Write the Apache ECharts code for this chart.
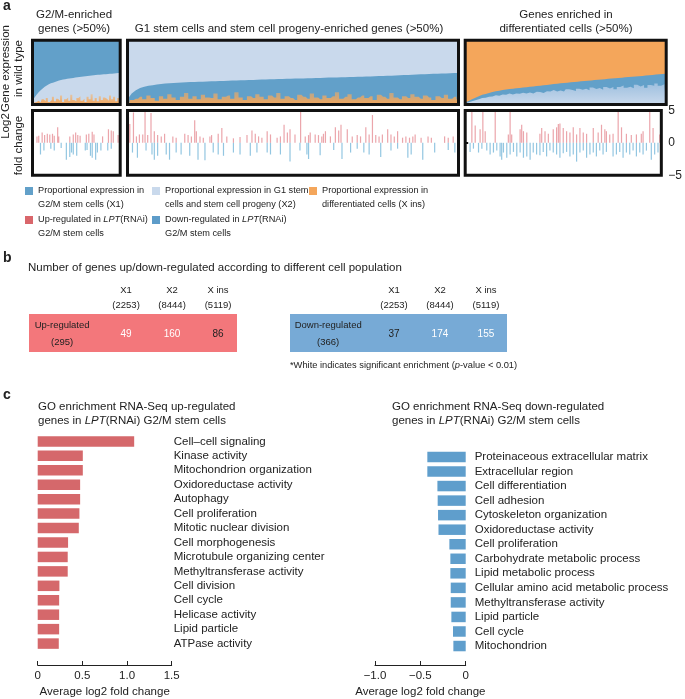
<!DOCTYPE html>
<html><head><meta charset="utf-8">
<script src="https://cdn.jsdelivr.net/npm/echarts@6/dist/echarts.min.js"></script>
<style>html,body{margin:0;padding:0;background:#fff}#c{width:685px;height:699px}</style>
</head><body><div id="c"></div>
<script>
const FONT = '"Liberation Sans", Arial, Helvetica, sans-serif';

// ---------- Panel a: proportional expression (sorted genes, binned), % of each gene ----------
const p1_X1 = [93,89,85,81,78,75,72.5,70.5,68.5,67,66,65,63.8,62.8,62,61.3,60.7,60,59.6,59.1,58.6,58.2,57.8,57.3,56.9,56.4,56,55.6,55.3,55,54.6,54.2,53.9,53.6,53.3,53,52.8,52.5,52.2,52,51.7,51.5,51.2,51];
const p1_Xins = [2,3,4,6,3,8,5,10,4,7,12,5,9,6,14,4,8,11,6,15,7,5,10,13,6,9,4,12,8,16,6,10,5,13,7,11,9,6,14,8,12,5,10,7];
const p2_X2 = [92,83,78,74.5,72.5,71,70,69,68,67.5,67,66.5,66.2,65.8,65.5,65.2,65,64.8,64.5,64.3,64,63.8,63.5,63.3,63,62.8,62.6,62.4,62.2,62,61.8,61.5,61.3,61.1,60.9,60.7,60.5,60.3,60.1,59.9,59.7,59.5,59.4,59.2,59,58.8,58.6,58.4,58.2,58.1,57.9,57.7,57.5,57.3,57.1,56.9,56.7,56.5,56.3,56,55.8,55.6,55.3,55.1,54.8,54.5,54.3,54,53.7,53.4,53.1,52.8,52.5,52.2,52,51.8,51.6,51.4,51.2,51];
const p2_Xins = [3,7,9,12,8,14,10,6,13,9,16,11,7,12,18,9,13,8,15,11,10,17,8,12,14,9,19,11,7,13,10,16,12,8,14,11,18,9,13,10,7,15,12,9,17,11,8,14,10,13,19,9,12,16,8,11,14,10,13,7,15,12,9,18,11,8,13,10,16,12,9,14,11,7,13,10,15,9,12,8];
const p3_Xins = [97,94.5,92,89.5,87,85,83.5,82,80.5,79.5,78.5,77.5,76.8,76,75.4,74.8,74.2,73.6,73,72.5,71.9,71.3,70.7,70.1,69.5,68.9,68.3,67.7,67.1,66.6,66.1,65.5,65,64.5,64,63.5,63,62.5,62,61.5,61,60.6,60.1,59.6,59.2,58.7,58.3,57.8,57.4,56.9,56.4,56,55.5,55,54.5,54,53.5,53,52.5,52];
const p3_X1 = [1,2,3,4,5,5,6,6,7,6,8,7,8,7,9,8,9,8,10,9,11,9,10,12,10,11,9,12,11,13,10,12,14,11,13,12,15,11,14,13,16,12,15,13,17,14,12,16,15,18,13,16,14,19,15,17,14,18,16,20];

// ---------- Panel a: log2 fold change [position % of gene rank, log2FC] ----------
const up1 = [[5.1,1.0],[7.1,1.1],[11.0,1.6],[13.8,1.2],[16.9,1.4],[19.7,1.3],[22.8,1.4],[24.8,1.1],[28.7,2.4],[29.9,1.0],[42.5,1.0],[46.5,1.3],[49.2,1.6],[51.6,1.2],[54.3,1.1],[61.4,1.3],[64.2,1.4],[68.1,1.7],[70.1,1.3],[79.9,1.0],[86.6,2.1],[89.8,1.9],[92.1,1.8],[97.6,1.2]];
const down1 = [[9.1,-1.8],[13.0,-1.2],[20.9,-0.9],[24.8,-1.2],[32.7,-0.8],[38.6,-2.6],[42.5,-2.2],[44.5,-1.5],[46.5,-1.8],[50.4,-2.0],[60.2,-1.2],[62.2,-1.1],[66.1,-2.0],[68.1,-2.3],[72.0,-2.6],[74.0,-1.5],[78.0,-1.2],[85.8,-1.2],[89.8,-0.9]];
const up2 = [[0.3,4.0],[0.7,2.9],[1.8,4.7],[2.7,1.0],[3.6,1.3],[4.6,1.3],[5.3,5.3],[6.1,1.2],[7.1,4.6],[8.1,1.8],[9.1,1.2],[10.2,1.0],[11.2,1.4],[13.7,1.0],[14.7,0.8],[17.3,1.4],[18.3,1.2],[19.3,1.0],[20.3,3.5],[20.8,1.8],[21.9,1.0],[22.9,0.8],[24.9,1.0],[25.4,1.2],[27.4,1.4],[28.5,2.3],[30.0,1.0],[32.0,0.7],[34.0,0.9],[36.1,1.2],[37.6,1.9],[38.6,1.4],[39.6,1.0],[40.6,0.8],[42.2,1.8],[43.2,1.3],[45.2,0.8],[46.2,1.0],[47.3,2.8],[48.3,1.6],[49.1,2.1],[50.6,1.3],[52.3,5.3],[53.7,1.0],[54.7,1.2],[55.2,1.6],[56.7,1.3],[57.7,1.2],[58.7,1.0],[59.2,1.4],[59.8,1.8],[61.3,1.0],[62.8,2.4],[63.8,1.9],[64.5,2.8],[66.4,2.1],[67.9,1.0],[69.4,1.2],[70.4,1.0],[72.0,2.4],[73.0,1.3],[74.0,4.3],[75.0,1.2],[76.0,1.0],[77.0,1.3],[78.6,2.1],[79.6,1.3],[80.6,1.0],[81.6,1.8],[83.1,0.8],[84.1,1.0],[85.2,0.8],[86.2,1.0],[86.9,1.3],[88.7,0.8],[90.8,1.0],[91.8,0.8],[95.8,1.0],[96.9,0.8],[98.4,1.0]];
const down2 = [[0.3,-2.3],[1.5,-1.5],[3.0,-2.3],[5.6,-1.2],[7.4,-1.8],[8.1,-2.6],[9.1,-2.0],[11.7,-1.8],[12.7,-2.6],[14.7,-1.5],[16.2,-1.8],[18.8,-2.0],[21.3,-2.6],[23.4,-2.7],[25.9,-1.5],[27.4,-1.8],[29.0,-2.0],[32.0,-1.5],[34.0,-1.8],[37.1,-2.0],[39.1,-1.5],[42.2,-1.5],[43.2,-1.8],[46.2,-1.8],[49.1,-2.9],[52.1,-1.2],[54.2,-1.8],[54.7,-2.5],[58.2,-1.9],[62.3,-1.1],[64.8,-2.5],[67.4,-1.5],[69.4,-0.9],[71.4,-1.5],[73.0,-1.8],[76.5,-2.2],[79.6,-1.2],[81.6,-0.9],[84.7,-2.3],[85.7,-1.8],[89.2,-2.6],[92.8,-1.5],[96.9,-1.1],[98.9,-1.5]];
const up3 = [[3.4,5.3],[5.1,2.7],[7.6,2.1],[9.0,5.3],[10.2,1.8],[15.3,5.3],[22.0,1.3],[22.9,5.2],[23.7,1.3],[28.0,2.1],[28.8,2.8],[29.7,1.8],[31.4,1.6],[38.1,1.4],[39.0,2.3],[40.7,1.8],[42.4,1.4],[44.9,2.1],[46.6,2.4],[47.5,2.9],[48.3,3.0],[50.0,2.3],[51.7,1.8],[53.4,1.6],[55.1,2.4],[56.8,1.3],[58.5,2.3],[60.2,1.6],[61.9,1.4],[65.3,2.3],[67.8,1.6],[69.5,2.8],[71.2,2.1],[72.0,1.8],[73.7,1.3],[75.4,1.4],[78.0,5.1],[79.7,2.4],[82.2,1.4],[84.7,1.2],[87.3,1.3],[89.8,1.4],[90.7,1.8],[94.1,5.2],[95.8,2.3],[99.2,1.3]];
const down3 = [[2.5,-1.4],[4.2,-0.9],[6.8,-1.5],[8.5,-0.9],[11.0,-1.2],[12.7,-1.8],[14.4,-1.5],[16.1,-1.2],[17.8,-2.1],[18.6,-2.6],[19.5,-1.5],[21.2,-2.3],[22.9,-1.8],[24.6,-1.4],[26.3,-2.1],[28.0,-1.5],[29.7,-2.3],[31.4,-2.1],[33.1,-2.6],[34.7,-1.5],[36.4,-1.8],[38.1,-1.9],[39.8,-1.4],[41.5,-2.1],[43.2,-1.2],[44.9,-1.5],[46.6,-1.8],[48.3,-2.3],[50.0,-1.6],[51.7,-1.4],[53.4,-2.1],[55.1,-1.8],[56.8,-2.9],[58.5,-1.5],[60.2,-1.2],[61.9,-2.3],[63.6,-1.8],[65.3,-1.5],[66.9,-2.1],[68.6,-1.2],[70.3,-1.8],[72.0,-1.4],[75.4,-2.1],[77.1,-1.8],[78.8,-1.4],[80.5,-2.3],[82.2,-1.5],[83.9,-1.8],[85.6,-1.2],[87.3,-2.1],[89.0,-1.5],[90.7,-1.8],[92.4,-1.2],[94.9,-2.6],[96.6,-1.8],[98.3,-1.5]];
const foldTicks = [-5, 0, 5];

// ---------- Panel b ----------
const populations = ['X1', 'X2', 'X ins'];
const populationSizes = [2253, 8444, 5119];
const upCounts = [49, 160, 86];
const upSignificant = [true, true, false];
const upTotal = 295;
const downCounts = [37, 174, 155];
const downSignificant = [false, true, true];
const downTotal = 366;

// ---------- Panel c ----------
const upTerms = ['Cell\u2013cell signaling','Kinase activity','Mitochondrion organization','Oxidoreductase activity','Autophagy','Cell proliferation','Mitotic nuclear division','Cell morphogenesis','Microtubule organizing center','Methyltransferase activity','Cell division','Cell cycle','Helicase activity','Lipid particle','ATPase activity'];
const upFold = [1.08,0.505,0.505,0.475,0.475,0.467,0.46,0.34,0.336,0.336,0.243,0.24,0.24,0.24,0.236];
const downTerms = ['Proteinaceous extracellular matrix','Extracellular region','Cell differentiation','Cell adhesion','Cytoskeleton organization','Oxidoreductase activity','Cell proliferation','Carbohydrate metabolic process','Lipid metabolic process','Cellular amino acid metabolic process','Methyltransferase activity','Lipid particle','Cell cycle','Mitochondrion'];
const downFold = [-0.423,-0.423,-0.312,-0.309,-0.305,-0.30,-0.18,-0.169,-0.169,-0.165,-0.165,-0.158,-0.14,-0.136];

// ---------- styling ----------
const C_X1 = '#62a0c9', C_X2 = '#c9d9ec', C_XINS = '#f4a65b';
const C_UP = 'rgba(222,105,115,0.6)', C_DOWN = 'rgba(75,160,205,0.6)';
const grad = (top, bottom) => new echarts.graphic.LinearGradient(0, 0, 0, 1, [{offset: 0, color: top}, {offset: 1, color: bottom}]);
const S1 = 'Proportional expression in G2/M stem cells (X1)';
const S2 = 'Proportional expression in G1 stem cells and stem cell progeny (X2)';
const S3 = 'Proportional expression in differentiated cells (X ins)';
const S4 = 'Up-regulated in LPT(RNAi) G2/M stem cells';
const S5 = 'Down-regulated in LPT(RNAi) G2/M stem cells';
const legendText = {};
legendText[S1] = 'Proportional expression in\nG2/M stem cells (X1)';
legendText[S2] = 'Proportional expression in G1 stem\ncells and stem cell progeny (X2)';
legendText[S3] = 'Proportional expression in\ndifferentiated cells (X ins)';
legendText[S4] = 'Up-regulated in {i|LPT}(RNAi)\nG2/M stem cells';
legendText[S5] = 'Down-regulated in {i|LPT}(RNAi)\nG2/M stem cells';

const topBox = {top: 40.2, height: 64.3};
const botBox = {top: 110.5, height: 64.7};
const cols = [{left: 32.5, width: 87.7}, {left: 127.5, width: 331}, {left: 465.2, width: 201}];
const gridBorder = {show: true, borderColor: '#111', borderWidth: 3, backgroundColor: 'transparent', z: 10};

const grids = [];
const xAxes = [];
const yAxes = [];
const series = [];
const idx = n => Array.from({length: n}, (_, i) => i);
const sum = (...arrs) => arrs[0].map((_, i) => arrs.reduce((s, a) => s + a[i], 0));

// each panel: layers [top, middle, bottom] as [name, color, share-array, step]
// drawn as cumulative areas from 0 (painter's order) so adjacent layers share no seams
const p1_X2 = p1_X1.map((v, i) => 100 - v - p1_Xins[i]);
const p2_X1 = p2_X2.map((v, i) => 100 - v - p2_Xins[i]);
const p3_X2 = p3_Xins.map((v, i) => 100 - v - p3_X1[i]);
const topPanels = [
  [[S1, C_X1, p1_X1, false], [S2, C_X2, p1_X2, false], [S3, grad('#e0c6aa', C_XINS), p1_Xins, 'middle']],
  [[S2, C_X2, p2_X2, false], [S1, C_X1, p2_X1, false], [S3, grad('#b7a78c', C_XINS), p2_Xins, 'middle']],
  [[S3, C_XINS, p3_Xins, false], [S1, C_X1, p3_X1, false], [S2, grad('#9fc0df', C_X2), p3_X2, 'middle']]
];
topPanels.forEach((layers, k) => {
  grids.push(Object.assign({left: cols[k].left, width: cols[k].width}, topBox, gridBorder));
  const n = layers[0][2].length;
  xAxes.push({gridIndex: k, type: 'category', data: idx(n), show: false, boundaryGap: false});
  yAxes.push({gridIndex: k, type: 'value', min: 0, max: 100, show: false});
  layers.forEach(([name, color, data, step], j) => {
    const cumulative = sum(...layers.slice(j).map(l => l[2]));
    series.push({type: 'line', name, xAxisIndex: k, yAxisIndex: k, data: cumulative,
      step, symbol: 'none', lineStyle: {width: 0}, itemStyle: {color},
      areaStyle: {color, opacity: 1, origin: 'start'}, silent: true});
  });
});

const ups = [up1, up2, up3], downs = [down1, down2, down3];
for (let k = 0; k < 3; k++) {
  const gi = 3 + k;
  grids.push(Object.assign({left: cols[k].left, width: cols[k].width}, botBox, gridBorder));
  xAxes.push({gridIndex: gi, type: 'value', min: 0, max: 100, show: false});
  const isLast = k === 2;
  yAxes.push({gridIndex: gi, type: 'value', min: foldTicks[0], max: foldTicks[2], interval: 5,
    show: isLast, position: 'right',
    axisLine: {show: false}, splitLine: {show: false},
    axisTick: {show: isLast, length: 3, lineStyle: {color: '#111', width: 2}},
    axisLabel: {show: isLast, margin: 7, fontSize: 12, color: '#222', fontFamily: FONT,
      formatter: v => v < 0 ? '\u2212' + Math.abs(v) : String(v)}});
  series.push({type: 'bar', name: S4, xAxisIndex: gi, yAxisIndex: gi, data: ups[k], barWidth: 1.2, barGap: '-100%',
    itemStyle: {color: C_UP}, silent: true});
  series.push({type: 'bar', name: S5, xAxisIndex: gi, yAxisIndex: gi, data: downs[k], barWidth: 1.2, barGap: '-100%',
    itemStyle: {color: C_DOWN}, silent: true});
}

// ---------- Panel b tables (custom series) ----------
const TF = '9.5px ' + FONT;
const tables = [
  {grid: {left: 29, top: 314, width: 208, height: 38}, unitMax: 208 / 46, labelX: 0.72, firstX: 2.11,
   fill: '#f3777b', label: 'Up-regulated', total: upTotal, counts: upCounts, sig: upSignificant},
  {grid: {left: 290, top: 314, width: 217, height: 38}, unitMax: 217 / 46, labelX: 0.83, firstX: 2.26,
   fill: '#77aad6', label: 'Down-regulated', total: downTotal, counts: downCounts, sig: downSignificant}
];
tables.forEach((t, k) => {
  const gi = 6 + k;
  grids.push(t.grid);
  xAxes.push({gridIndex: gi, type: 'value', min: 0, max: t.unitMax, show: false});
  yAxes.push({gridIndex: gi, type: 'value', min: 0, max: 1, show: false});
  series.push({
    type: 'custom', xAxisIndex: gi, yAxisIndex: gi, silent: true,
    data: t.counts.map((c, i) => [t.firstX + i, c]),
    renderItem: (params, api) => {
      const i = params.dataIndex;
      const cs = params.coordSys;
      const p = api.coord([api.value(0), 0.5]);
      const ch = [];
      if (i === 0) {
        ch.push({type: 'rect', shape: {x: cs.x, y: cs.y, width: cs.width, height: cs.height}, style: {fill: t.fill}});
        const lp = api.coord([t.labelX, 0.5]);
        ch.push({type: 'text', style: {x: lp[0], y: lp[1] + 1, text: t.label + '\n(' + t.total + ')', align: 'center',
          verticalAlign: 'middle', lineHeight: 17, fill: '#222', font: TF}});
      }
      ch.push({type: 'text', style: {x: p[0], y: p[1] + 1, text: String(api.value(1)), align: 'center', verticalAlign: 'middle',
        fill: t.sig[i] ? '#fff' : '#222', font: '10px ' + FONT}});
      ch.push({type: 'text', style: {x: p[0], y: cs.y - 24, text: populations[i], align: 'center', verticalAlign: 'middle',
        fill: '#222', font: TF}});
      ch.push({type: 'text', style: {x: p[0], y: cs.y - 9, text: '(' + populationSizes[i] + ')', align: 'center', verticalAlign: 'middle',
        fill: '#222', font: TF}});
      return {type: 'group', children: ch};
    }
  });
});

// ---------- Panel c ----------
const catLabel = {fontSize: 11.5, color: '#222', fontFamily: FONT, align: 'left', interval: 0};
grids.push({left: 37.7, top: 434.2, width: 134, height: 218.6});
xAxes.push({gridIndex: 8, type: 'value', min: 0, max: 1.5, interval: 0.5, position: 'bottom', offset: 14.2,
  axisLine: {show: true, lineStyle: {color: '#222', width: 1}}, axisTick: {show: true, inside: true, length: 4, lineStyle: {color: '#222'}},
  splitLine: {show: false},
  axisLabel: {margin: 5, fontSize: 11.5, color: '#222', fontFamily: FONT, formatter: v => v === 0 ? '0' : v.toFixed(1)},
  name: 'Average log2 fold change', nameLocation: 'middle', nameGap: 21,
  nameTextStyle: {fontSize: 11.5, color: '#222', fontFamily: FONT}});
yAxes.push({gridIndex: 8, type: 'category', data: upTerms, inverse: true, position: 'right',
  axisLine: {show: false}, axisTick: {show: false}, axisLabel: Object.assign({margin: 2}, catLabel)});
series.push({type: 'bar', xAxisIndex: 8, yAxisIndex: 8, data: upFold, barWidth: 10.5,
  itemStyle: {color: '#d5686b'}, silent: true});

grids.push({left: 375, top: 449.7, width: 90.7, height: 204.6});
xAxes.push({gridIndex: 9, type: 'value', min: -1, max: 0, interval: 0.5, position: 'bottom', offset: 11.7,
  axisLine: {show: true, onZero: false, lineStyle: {color: '#222', width: 1}}, axisTick: {show: true, inside: true, length: 4, lineStyle: {color: '#222'}},
  splitLine: {show: false},
  axisLabel: {margin: 5, fontSize: 11.5, color: '#222', fontFamily: FONT,
    formatter: v => v === 0 ? '0' : '\u2212' + Math.abs(v).toFixed(1)},
  name: 'Average log2 fold change', nameLocation: 'middle', nameGap: 21,
  nameTextStyle: {fontSize: 11.5, color: '#222', fontFamily: FONT}});
yAxes.push({gridIndex: 9, type: 'category', data: downTerms, inverse: true, position: 'right',
  axisLine: {show: false}, axisTick: {show: false}, axisLabel: Object.assign({margin: 9}, catLabel)});
series.push({type: 'bar', xAxisIndex: 9, yAxisIndex: 9, data: downFold, barWidth: 10.5,
  itemStyle: {color: '#5f9ecc'}, silent: true});

// ---------- legends ----------
const LF = 9.2;
const legendBase = {
  orient: 'horizontal', icon: 'rect', itemWidth: 8, itemHeight: 8, itemGap: 0, padding: 0, selectedMode: false,
  formatter: name => legendText[name],
  textStyle: {fontSize: LF, lineHeight: 13.5, color: '#222', fontFamily: FONT, padding: [13, 0, 0, 0],
    rich: {i: {fontStyle: 'italic', fontSize: LF, lineHeight: 13.5, fontFamily: FONT, color: '#222'}}}
};
const legendItems = [
  [S1, C_X1, 25, 171], [S2, C_X2, 152, 171], [S3, C_XINS, 309, 171],
  [S4, '#d9666b', 25, 200], [S5, '#5d9cc9', 152, 200]
];
const legends = legendItems.map(([name, color, left, top]) =>
  Object.assign({}, legendBase, {left, top, data: [{name, icon: 'rect', itemStyle: {color, opacity: 1}, lineStyle: {width: 0}}]}));

// ---------- text annotations ----------
const T = (x, y, text, opts) => ({type: 'text', x, y, silent: true,
  style: Object.assign({text, fill: '#222', font: '11.5px ' + FONT, align: 'center', verticalAlign: 'middle'}, opts || {})});
const R = (x, y, text, opts) => Object.assign(T(x, y, text, opts), {rotation: Math.PI / 2});
const ital = {i: {fontStyle: 'italic', fontSize: 11.5, fontFamily: FONT, fill: '#222'}};
const graphic = [
  T(3, 6, 'a', {font: 'bold 14px ' + FONT, align: 'left'}),
  T(74, 15, 'G2/M-enriched'), T(74, 29, 'genes (>50%)'),
  T(289, 29, 'G1 stem cells and stem cell progeny-enriched genes (>50%)'),
  T(566, 15, 'Genes enriched in'), T(566, 29, 'differentiated cells (>50%)'),
  R(6, 68.5, 'Gene expression'), R(19, 68.5, 'in wild type'),
  R(6, 126, 'Log2'), R(19, 145.5, 'fold change'),
  T(3, 258, 'b', {font: 'bold 14px ' + FONT, align: 'left'}),
  T(28, 268, 'Number of genes up/down-regulated according to different cell population', {align: 'left', font: '11.5px ' + FONT}),
  T(290, 365, '*White indicates significant enrichment ({i|p}-value < 0.01)', {align: 'left', font: '9.3px ' + FONT,
    rich: {i: {fontStyle: 'italic', fontSize: 9.3, fontFamily: FONT, fill: '#222'}}}),
  T(3, 395, 'c', {font: 'bold 14px ' + FONT, align: 'left'}),
  T(38, 407, 'GO enrichment RNA-Seq up-regulated', {align: 'left'}),
  T(38, 421, 'genes in {i|LPT}(RNAi) G2/M stem cells', {align: 'left', rich: ital}),
  T(392, 407, 'GO enrichment RNA-Seq down-regulated', {align: 'left'}),
  T(392, 421, 'genes in {i|LPT}(RNAi) G2/M stem cells', {align: 'left', rich: ital})
];

const chart = echarts.init(document.getElementById('c'), null, {renderer: 'canvas'});
chart.setOption({
  animation: false,
  backgroundColor: '#fff',
  textStyle: {fontFamily: FONT},
  grid: grids, xAxis: xAxes, yAxis: yAxes, series, legend: legends, graphic
});
</script></body></html>
